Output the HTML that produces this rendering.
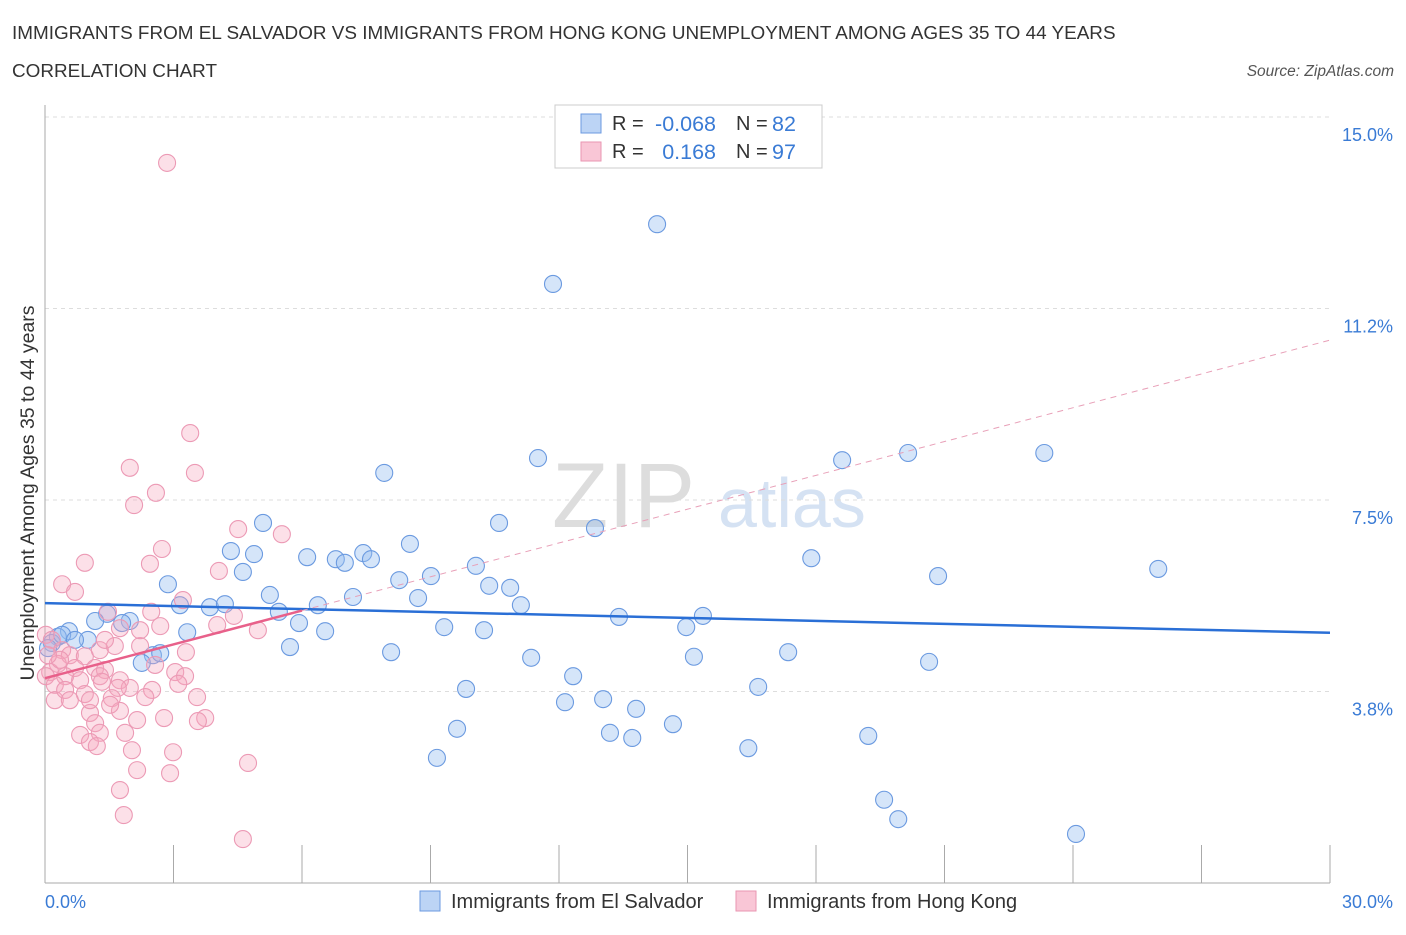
<!DOCTYPE html>
<html><head><meta charset="utf-8"><style>
body{margin:0;background:#fff;font-family:"Liberation Sans",sans-serif;}
svg text{font-family:"Liberation Sans",sans-serif;}
</style></head><body>
<svg id="chart" width="1406" height="930" xmlns="http://www.w3.org/2000/svg">
<text x="12" y="39" font-size="18.9" fill="#333">IMMIGRANTS FROM EL SALVADOR VS IMMIGRANTS FROM HONG KONG UNEMPLOYMENT AMONG AGES 35 TO 44 YEARS</text>
<text x="12" y="77" font-size="18.9" fill="#333">CORRELATION CHART</text>
<text x="1394" y="76" font-size="15.5" fill="#555" font-style="italic" text-anchor="end">Source: ZipAtlas.com</text>
<g><text x="552" y="527" font-size="92" fill="#ddd" font-family="Liberation Serif,serif">ZIP</text><text x="718" y="527" font-size="70" fill="#d5e2f3">atlas</text></g>
<g id="grid"></g><g id="axes"></g><g id="pts"></g><g id="trend"></g>
<text transform="translate(34,493) rotate(-90)" font-size="19.5" fill="#333" text-anchor="middle">Unemployment Among Ages 35 to 44 years</text>
<text x="45" y="908" font-size="18" fill="#3a7bd5">0.0%</text>
<text x="1393" y="908" font-size="18" fill="#3a7bd5" text-anchor="end">30.0%</text>
<g>
<rect x="555" y="105" width="267" height="63" fill="#fff" stroke="#ccc"/>
<rect x="581" y="114" width="20" height="19" fill="#bcd4f5" stroke="#6b9ae0"/>
<rect x="581" y="142" width="20" height="19" fill="#f9c6d6" stroke="#e996b2"/>
<text x="612" y="130" font-size="20" fill="#333">R =</text><text x="716" y="131" font-size="21.5" fill="#3a7bd5" text-anchor="end">-0.068</text>
<text x="736" y="130" font-size="20" fill="#333">N =</text><text x="772" y="131" font-size="21.5" fill="#3a7bd5">82</text>
<text x="612" y="158" font-size="20" fill="#333">R =</text><text x="716" y="159" font-size="21.5" fill="#3a7bd5" text-anchor="end">0.168</text>
<text x="736" y="158" font-size="20" fill="#333">N =</text><text x="772" y="159" font-size="21.5" fill="#3a7bd5">97</text>
</g>
<g>
<rect x="420" y="891" width="20" height="20" fill="#bcd4f5" stroke="#6b9ae0"/>
<text x="451" y="908" font-size="20" fill="#333">Immigrants from El Salvador</text>
<rect x="736" y="891" width="20" height="20" fill="#f9c6d6" stroke="#e996b2"/>
<text x="767" y="908" font-size="20" fill="#333">Immigrants from Hong Kong</text>
</g>
</svg>
<script>
const blueX=[14.29,11.86,7.92,11.51,18.61,20.15,23.33,5.09,10.60,12.84,4.34,4.88,8.52,6.79,7.00,7.43,7.61,6.12,17.89,4.62,9.01,10.06,8.27,10.37,10.86,20.85,25.99,2.87,5.25,7.19,8.71,3.15,3.85,4.20,6.37,11.11,5.46,13.40,15.36,1.45,1.98,1.80,1.17,5.93,3.32,6.54,9.32,10.25,14.97,0.56,0.30,1.00,0.16,0.07,5.72,8.08,2.52,2.69,2.26,11.35,15.15,17.35,20.64,12.33,16.65,9.83,12.14,13.03,13.80,14.66,9.62,13.19,13.71,19.22,16.42,9.15,19.59,19.92,24.07,0.40,0.70];
const blueY=[12.90,11.73,8.03,8.32,8.28,8.42,8.42,7.05,7.05,6.95,6.50,6.44,6.64,6.34,6.27,6.46,6.34,6.38,6.36,6.09,6.01,6.21,5.93,5.82,5.78,6.01,6.15,5.85,5.64,5.60,5.58,5.44,5.40,5.46,5.44,5.44,5.31,5.21,5.23,5.27,5.13,5.09,5.13,5.09,4.91,4.93,5.01,4.95,5.01,4.93,4.82,4.76,4.70,4.60,4.62,4.52,4.46,4.50,4.31,4.41,4.43,4.52,4.33,4.05,3.84,3.80,3.54,3.60,3.41,3.11,3.02,2.94,2.84,2.88,2.64,2.45,1.63,1.25,0.96,4.86,4.76];
const pinkX=[2.85,3.39,1.98,3.50,2.59,2.08,4.51,5.53,2.73,0.93,2.45,4.06,0.40,0.70,3.22,1.47,2.48,4.41,2.69,4.02,4.97,1.75,0.02,0.16,0.40,0.58,0.93,1.28,1.63,2.22,0.30,0.70,1.17,1.40,2.57,3.29,3.04,1.75,0.12,0.47,0.82,0.02,0.23,1.98,1.28,3.27,0.93,1.33,1.70,2.50,3.11,3.55,1.56,1.75,1.05,1.17,2.15,2.78,3.74,3.57,0.82,1.28,1.05,1.87,1.21,2.03,2.99,4.74,2.15,2.92,1.75,1.84,4.62,0.23,0.47,1.52,2.34,1.05,0.58,1.40,2.22,0.35,0.07];
const pinkY=[14.10,8.81,8.13,8.03,7.64,7.40,6.93,6.83,6.54,6.27,6.25,6.11,5.85,5.70,5.54,5.31,5.31,5.23,5.03,5.05,4.95,4.99,4.86,4.76,4.56,4.46,4.44,4.56,4.64,4.64,4.29,4.21,4.21,4.17,4.27,4.52,4.13,3.97,4.13,4.05,3.97,4.05,3.88,3.82,4.05,4.05,3.70,3.94,3.82,3.78,3.90,3.64,3.62,3.37,3.33,3.13,3.19,3.23,3.23,3.17,2.90,2.94,2.76,2.94,2.68,2.60,2.56,2.35,2.21,2.15,1.82,1.33,0.86,3.58,3.78,3.49,3.64,3.58,3.58,4.76,4.95,4.37,4.46];
const yTicks=[3.75,7.5,11.25,15.0];
const yTickLabels=["3.8%","7.5%","11.2%","15.0%"];
const xTicks=[0,3,6,9,12,15,18,21,24,27,30];
const blueTrend=[5.48,4.90];
const pinkTrend=[4.01,10.63];
const pinkSolidEnd=6.0;
const NS="http://www.w3.org/2000/svg";
const X=v=>45+v/30*1285, Y=v=>883-v*51.07;
function mk(p,t,a){const e=document.createElementNS(NS,t);for(const k in a)e.setAttribute(k,a[k]);p.appendChild(e);return e;}
const grid=document.getElementById('grid'),axes=document.getElementById('axes'),pts=document.getElementById('pts'),trend=document.getElementById('trend');
yTicks.forEach((t,i)=>{const l=mk(grid,'line',{x1:45,x2:1330,y1:Y(t),y2:Y(t),stroke:'#ddd','stroke-dasharray':'4,4'});


const tx=mk(grid,'text',{x:1393,y:Y(t)+24,'font-size':18,fill:'#3a7bd5','text-anchor':'end'});tx.textContent=yTickLabels[i];

});
const ya=mk(axes,'line',{x1:45,x2:45,y1:105,y2:883,stroke:'#aaa'});


const xa=mk(axes,'line',{x1:45,x2:1330,y1:883,y2:883,stroke:'#aaa'});


xTicks.forEach(t=>{const l=mk(axes,'line',{x1:X(t),x2:X(t),y1:845,y2:883,stroke:'#aaa'});

});
blueX.forEach((x,i)=>{const c=mk(pts,'circle',{cx:X(x),cy:Y(blueY[i]),r:8.5,fill:'rgba(150,190,240,0.4)',stroke:'#6b9ae0','stroke-width':1.1});

});
pinkX.forEach((x,i)=>{const c=mk(pts,'circle',{cx:X(x),cy:Y(pinkY[i]),r:8.5,fill:'rgba(245,165,190,0.35)',stroke:'#ec9ab5','stroke-width':1.1});

});
const bt=mk(trend,'line',{x1:X(0),y1:Y(blueTrend[0]),x2:X(30),y2:Y(blueTrend[1]),stroke:'#2a6fd6','stroke-width':2.5});


const pe=pinkTrend[0]+(pinkTrend[1]-pinkTrend[0])*pinkSolidEnd/30;
const ps=mk(trend,'line',{x1:X(0),y1:Y(pinkTrend[0]),x2:X(pinkSolidEnd),y2:Y(pe),stroke:'#e8608a','stroke-width':2.5});


const pd=mk(trend,'line',{x1:X(pinkSolidEnd),y1:Y(pe),x2:X(30),y2:Y(pinkTrend[1]),stroke:'#e8a0b8','stroke-width':1,'stroke-dasharray':'6,5'});


</script>
</body></html>
